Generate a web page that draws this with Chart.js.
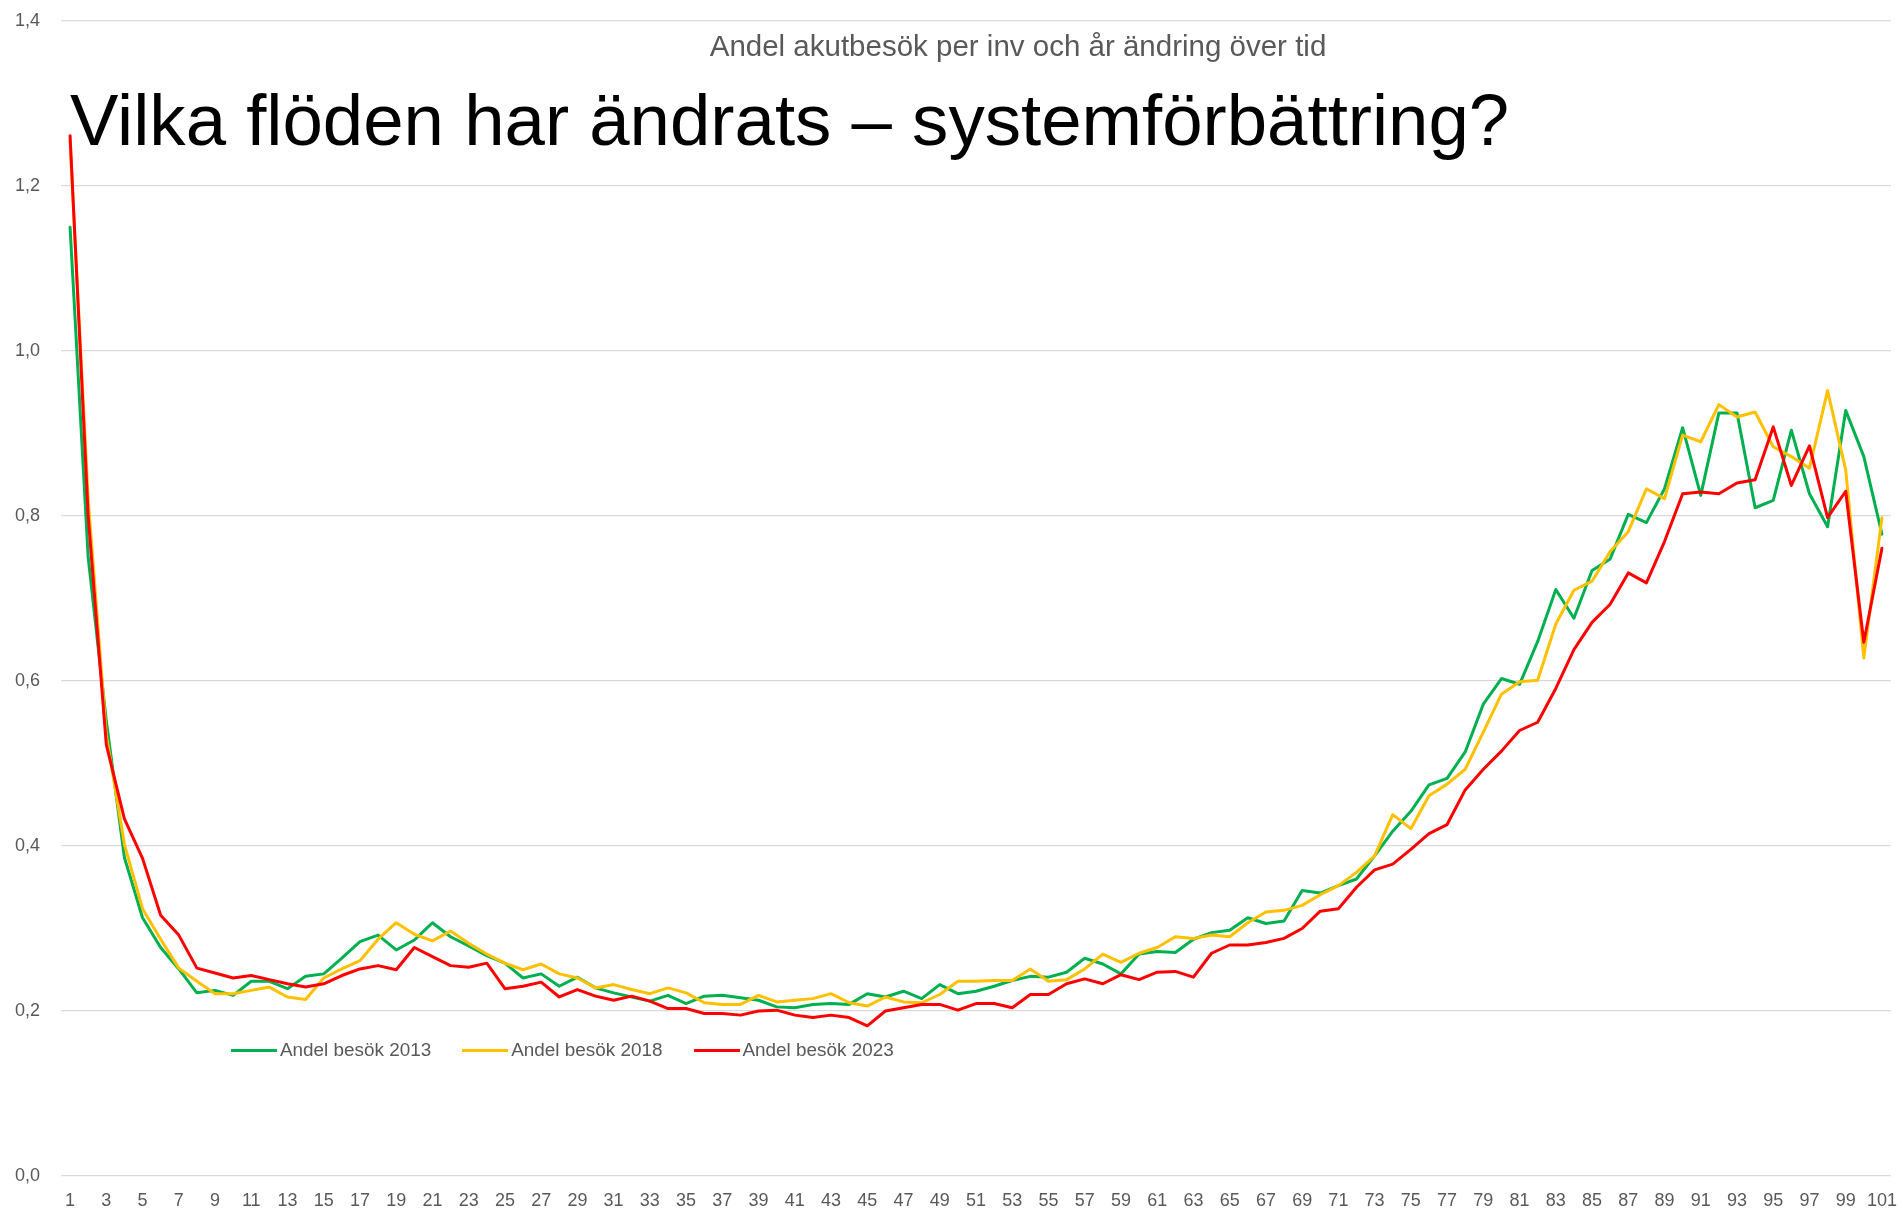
<!DOCTYPE html>
<html>
<head>
<meta charset="utf-8">
<script src="https://cdn.jsdelivr.net/npm/chart.js@4.4.1/dist/chart.umd.min.js"></script>
<style>
  html, body { margin: 0; padding: 0; background: #ffffff; width: 1903px; height: 1211px; overflow: hidden; }
  #wrap { position: relative; width: 1903px; height: 1211px; }
  #chart { position: absolute; left: 0; top: 0; }
  #heading { position: absolute; left: 70px; top: 84px; font-family: 'Liberation Sans', Arial, sans-serif; font-size: 72.6px; line-height: 1; color: #000000; white-space: nowrap; }
  #ctitle { position: absolute; left: 518px; width: 1000px; top: 31px; text-align: center; font-family: 'Liberation Sans', Arial, sans-serif; font-size: 29.5px; line-height: 1; color: #595959; white-space: nowrap; }
  #legend { position: absolute; left: 231px; top: 1038px; height: 24px; display: flex; align-items: center; font-family: 'Liberation Sans', Arial, sans-serif; font-size: 18.9px; color: #595959; white-space: nowrap; }
  .lg-item { display: flex; align-items: center; margin-right: 31px; }
  .lg-line { display: inline-block; width: 46px; height: 3px; margin-right: 3px; }
</style>
</head>
<body>
<div id="wrap">
  <canvas id="chart" width="1903" height="1211"></canvas>
  <div id="ctitle"></div>
  <div id="heading"></div>
  <div id="legend"></div>
</div>
<script>
// ---- Data ----
const ages = [1,2,3,4,5,6,7,8,9,10,11,12,13,14,15,16,17,18,19,20,21,22,23,24,25,26,27,28,29,30,
  31,32,33,34,35,36,37,38,39,40,41,42,43,44,45,46,47,48,49,50,51,52,53,54,55,56,57,58,59,60,
  61,62,63,64,65,66,67,68,69,70,71,72,73,74,75,76,77,78,79,80,81,82,83,84,85,86,87,88,89,90,
  91,92,93,94,95,96,97,98,99,100,101];

const andel2013 = [1.150,0.750,0.552,0.386,0.313,0.277,0.251,0.222,0.225,0.219,
  0.236,0.236,0.227,0.242,0.245,0.264,0.284,0.292,0.274,0.286,
  0.307,0.290,0.279,0.267,0.258,0.240,0.245,0.230,0.241,0.228,
  0.222,0.217,0.212,0.219,0.209,0.218,0.219,0.216,0.213,0.205,
  0.204,0.208,0.209,0.208,0.221,0.217,0.224,0.215,0.232,0.221,
  0.224,0.230,0.237,0.242,0.241,0.247,0.264,0.257,0.245,0.269,
  0.272,0.271,0.287,0.295,0.298,0.313,0.306,0.309,0.346,0.343,
  0.352,0.360,0.388,0.418,0.442,0.474,0.482,0.514,0.572,0.603,
  0.596,0.648,0.711,0.676,0.734,0.748,0.802,0.792,0.833,0.907,
  0.825,0.925,0.925,0.810,0.819,0.904,0.827,0.787,0.928,0.872,
  0.778];

const andel2018 = [1.255,0.820,0.535,0.402,0.324,0.287,0.252,0.236,0.221,0.221,
  0.225,0.229,0.217,0.214,0.240,0.251,0.261,0.287,0.307,0.293,
  0.285,0.297,0.282,0.269,0.258,0.250,0.257,0.245,0.240,0.228,
  0.232,0.226,0.221,0.228,0.222,0.210,0.208,0.208,0.219,0.211,
  0.213,0.215,0.221,0.210,0.206,0.217,0.211,0.210,0.220,0.236,
  0.236,0.237,0.237,0.251,0.236,0.238,0.251,0.269,0.259,0.270,
  0.277,0.290,0.288,0.292,0.290,0.307,0.320,0.322,0.328,0.341,
  0.352,0.368,0.388,0.438,0.421,0.461,0.475,0.493,0.538,0.584,
  0.599,0.601,0.669,0.710,0.721,0.757,0.781,0.833,0.821,0.898,
  0.890,0.935,0.920,0.926,0.884,0.872,0.858,0.952,0.856,0.628,
  0.798];

const andel2023 = [1.261,0.800,0.523,0.433,0.385,0.316,0.292,0.252,0.246,0.240,
  0.243,0.238,0.233,0.229,0.233,0.243,0.251,0.255,0.250,0.277,
  0.266,0.255,0.253,0.258,0.227,0.230,0.235,0.217,0.226,0.218,
  0.213,0.218,0.212,0.203,0.203,0.197,0.197,0.195,0.200,0.201,
  0.195,0.192,0.195,0.192,0.182,0.200,0.204,0.208,0.208,0.201,
  0.209,0.209,0.204,0.220,0.220,0.233,0.239,0.233,0.244,0.238,
  0.247,0.248,0.241,0.270,0.280,0.280,0.283,0.288,0.300,0.321,
  0.324,0.350,0.371,0.378,0.396,0.415,0.426,0.468,0.493,0.515,
  0.540,0.550,0.591,0.638,0.671,0.693,0.731,0.719,0.769,0.827,
  0.829,0.827,0.840,0.844,0.908,0.837,0.885,0.798,0.830,0.647,
  0.761];

const seriesNames = ['Andel besök 2013', 'Andel besök 2018', 'Andel besök 2023'];
const seriesColors = ['#00B050', '#FFC000', '#FF0000'];
const yMin = 0, yMax = 1.4, yStep = 0.2;
const chartTitle = 'Andel akutbesök per inv och år ändring över tid';
const headingText = 'Vilka flöden har ändrats – systemförbättring?';

// ---- Chart ----
const seriesData = [andel2013, andel2018, andel2023];
const datasets = seriesData.map((d, i) => ({
  label: seriesNames[i],
  data: d,
  borderColor: seriesColors[i],
  backgroundColor: seriesColors[i],
  borderWidth: 3,
  pointRadius: 0,
  pointHoverRadius: 0,
  tension: 0,
  fill: false,
  borderJoinStyle: 'round',
  borderCapStyle: 'round',
  order: seriesData.length - 1 - i
}));

const tickFont = { family: "'Liberation Sans', Arial, sans-serif", size: 18 };

const chart = new Chart(document.getElementById('chart'), {
  type: 'line',
  data: { labels: ages.map(String), datasets: datasets },
  options: {
    responsive: false,
    animation: false,
    devicePixelRatio: 1,
    layout: { padding: { left: 0, right: 12, top: 21, bottom: 0 } },
    plugins: {
      legend: { display: false },
      title: { display: false },
      tooltip: { enabled: false }
    },
    scales: {
      x: {
        type: 'category',
        offset: true,
        grid: { display: false, drawTicks: false },
        border: { display: false },
        ticks: {
          autoSkip: false,
          maxRotation: 0,
          minRotation: 0,
          padding: 14,
          color: '#595959',
          font: tickFont,
          callback: function (value, index) { return index % 2 === 0 ? this.getLabelForValue(value) : ''; }
        },
        afterFit: function (scale) { scale.height = 35; scale.paddingLeft = 0; scale.paddingRight = 0; }
      },
      y: {
        min: yMin,
        max: yMax,
        grid: { color: '#D9D9D9', lineWidth: 1.2, drawTicks: false },
        border: { display: false },
        ticks: {
          stepSize: yStep,
          padding: 21,
          color: '#595959',
          font: tickFont,
          callback: function (v) { return Number(v).toFixed(1).replace('.', ','); }
        },
        afterFit: function (scale) { scale.width = 61; scale.paddingTop = 0; scale.paddingBottom = 0; }
      }
    }
  }
});

// ---- Texts overlaid like the slide ----
document.getElementById('ctitle').textContent = chartTitle;
document.getElementById('heading').textContent = headingText;

const legendEl = document.getElementById('legend');
chart.data.datasets.forEach(ds => {
  const item = document.createElement('div');
  item.className = 'lg-item';
  const line = document.createElement('span');
  line.className = 'lg-line';
  line.style.background = ds.borderColor;
  const txt = document.createElement('span');
  txt.textContent = ds.label;
  item.appendChild(line);
  item.appendChild(txt);
  legendEl.appendChild(item);
});
</script>
</body>
</html>
